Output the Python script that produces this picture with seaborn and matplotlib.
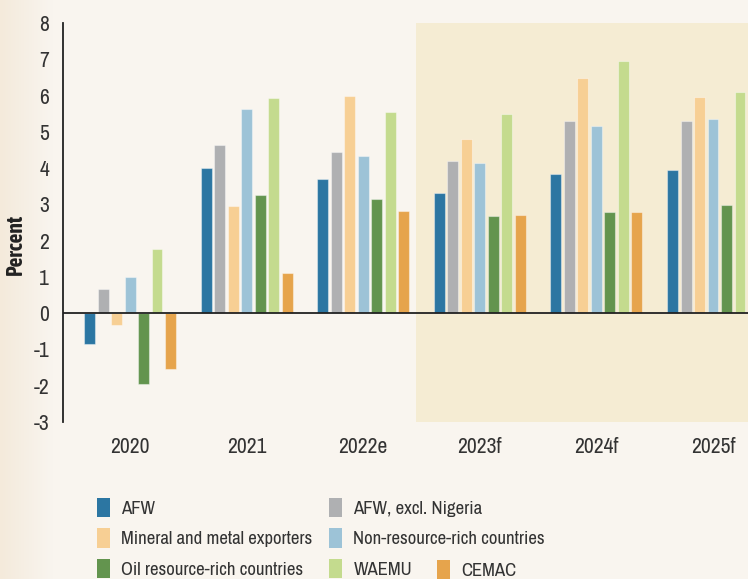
import numpy as np
import pandas as pd
import matplotlib
matplotlib.use("Agg")
import matplotlib.pyplot as plt
import seaborn as sns
from matplotlib import font_manager
from matplotlib.patches import Patch
from matplotlib.colors import LinearSegmentedColormap

# Data (percent)
years = ["2020", "2021", "2022e", "2023f", "2024f", "2025f"]
groups = ["AFW", "AFW, excl. Nigeria", "Mineral and metal exporters",
          "Non-resource-rich countries", "Oil resource-rich countries",
          "WAEMU", "CEMAC"]
afw = [-0.85, 4.01, 3.70, 3.31, 3.85, 3.96]
afw_excl_nigeria = [0.67, 4.65, 4.43, 4.20, 5.31, 5.31]
mineral_metal = [-0.32, 2.96, 6.00, 4.81, 6.49, 5.95]
non_resource = [1.01, 5.62, 4.34, 4.14, 5.17, 5.34]
oil_resource = [-1.94, 3.25, 3.16, 2.68, 2.79, 2.98]
waemu = [1.76, 5.94, 5.55, 5.50, 6.96, 6.11]
cemac = [-1.53, 1.12, 2.83, 2.71, 2.79, 3.09]

colors = ["#2c76a2", "#afb0b2", "#f7cf94", "#9dc3d7", "#63944e", "#c4db8e", "#e6a44c"]

series = [afw, afw_excl_nigeria, mineral_metal, non_resource, oil_resource, waemu, cemac]
df = pd.DataFrame([
    {"year": y, "group": g, "value": v}
    for g, vals in zip(groups, series)
    for y, v in zip(years, vals)
])

# look for a narrow / condensed sans font, the original uses a condensed face
fam, stretch, narrow = "DejaVu Sans", "normal", False
entries = font_manager.fontManager.ttflist
bad = ("Mono", "Serif", "CJK", "Math")


def is_narrow(e):
    return ("Narrow" in e.name or "Condensed" in e.name) and not any(b in e.name for b in bad)


def weight_num(e):
    w = e.weight
    if isinstance(w, str):
        return font_manager.weight_dict.get(w, 400)
    return w


for e in entries:
    if is_narrow(e):
        fam, narrow = e.name, True
        break
if not narrow:
    for e in entries:
        st = str(e.stretch)
        if st in ("condensed", "semi-condensed", "extra-condensed", "ultra-condensed") \
                or st.isdigit() and int(st) < 500:
            if not any(b in e.name for b in bad):
                fam, stretch, narrow = e.name, "condensed", True
                break

# a bold face for the axis title
bold_fam = "Roboto"
if any(e.name == fam and weight_num(e) >= 600 for e in entries):
    bold_fam = fam
else:
    for e in entries:
        if is_narrow(e) and weight_num(e) >= 600:
            bold_fam = e.name
            break

bg = "#f9f5ef"
txt = "#333333"
plt.rcParams["font.family"] = fam
plt.rcParams["font.stretch"] = stretch

tick_fs = 15.5 if narrow else 12.5
leg_fs = 13.5 if narrow else 11

fig = plt.figure(figsize=(7.48, 5.79), dpi=100, facecolor=bg)

# faint darker strip on the left edge
gax = fig.add_axes([0, 0, 0.07, 1])
grad = np.linspace(0, 1, 100).reshape(1, -1)
cm = LinearSegmentedColormap.from_list("g", ["#f4eadb", bg])
gax.imshow(grad, aspect="auto", cmap=cm, extent=[0, 1, 0, 1])
gax.axis("off")

ax = fig.add_axes([63 / 748, 1 - 422 / 579, 1 - 63 / 748, (422 - 23) / 579])
ax.set_facecolor("none")

# forecast shading
ax.axvspan(2.45, 6, color="#f5ecd3", zorder=0, lw=0)

sns.barplot(data=df, x="year", y="value", hue="group", hue_order=groups,
            palette=colors, saturation=1, width=0.81, gap=0.19, ax=ax, legend=False,
            edgecolor=(1, 1, 1, 0.4), linewidth=0.8, zorder=2)

ax.axhline(0, color="#222222", lw=1.3, zorder=3)
ax.set_xlim(-0.575, 5.30)
ax.set_ylim(-3, 8)
ax.set_yticks(range(-3, 9))
ax.set_yticklabels([str(i) for i in range(-3, 9)])
ax.tick_params(axis="both", length=0, labelsize=tick_fs, colors=txt)
ax.tick_params(axis="x", pad=11)
ax.tick_params(axis="y", pad=10)
for s in ["top", "right", "bottom"]:
    ax.spines[s].set_visible(False)
ax.spines["left"].set_color("#222222")
ax.spines["left"].set_linewidth(1.3)
ax.set_xlabel("")
ax.set_ylabel("Percent", fontsize=tick_fs, fontweight="bold", color="#222222",
              family=[bold_fam, "DejaVu Sans"])
ax.yaxis.set_label_coords(-0.053, 0.444)

# legend in three blocks
handles = [Patch(facecolor=c, edgecolor="none") for c in colors]
kw = dict(frameon=False, fontsize=leg_fs, handlelength=0.7, handleheight=1.2,
          handletextpad=0.6, labelspacing=0.6, borderpad=0, borderaxespad=0,
          labelcolor=txt, loc="center left")
fig.legend([handles[0], handles[2], handles[4]], [groups[0], groups[2], groups[4]],
           bbox_to_anchor=(97 / 748, 1 - 538 / 579), **kw)
fig.legend([handles[1], handles[3], handles[5]], [groups[1], groups[3], groups[5]],
           bbox_to_anchor=(329 / 748, 1 - 538 / 579), **kw)
fig.legend([handles[6]], [groups[6]],
           bbox_to_anchor=(437 / 748, 1 - 570 / 579), **kw)

fig.savefig("out.png", dpi=100, facecolor=bg)
